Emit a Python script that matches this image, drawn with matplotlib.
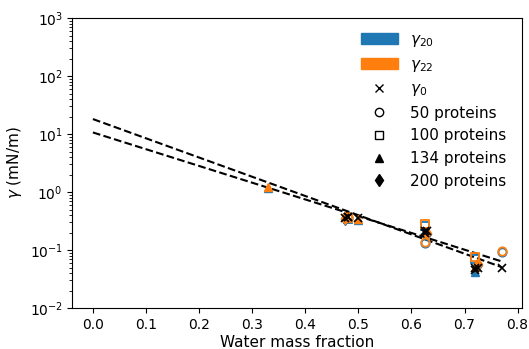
import numpy as np
import matplotlib
matplotlib.use("Agg")
import matplotlib.pyplot as plt
from matplotlib.patches import Patch
from matplotlib.lines import Line2D

# water mass fraction and surface tension (mN/m) per system size
labels = ["50 proteins", "100 proteins", "134 proteins", "200 proteins"]
markers = ["o", "s", "^", "d"]
hollow = [True, True, False, False]

x_50 = [0.48, 0.625, 0.77]
g20_50 = [0.36, 0.135, 0.093]
g22_50 = [0.37, 0.14, 0.097]
g0_50 = [0.38, 0.21, 0.050]

x_100 = [0.48, 0.625, 0.72]
g20_100 = [0.34, 0.26, 0.070]
g22_100 = [0.36, 0.28, 0.075]
g0_100 = [0.37, 0.20, 0.050]

x_134 = [0.33, 0.50, 0.72]
g20_134 = [1.2, 0.33, 0.042]
g22_134 = [1.25, 0.34, 0.052]
g0_134 = [np.nan, 0.36, 0.046]

x_200 = [0.475, 0.63, 0.725]
g20_200 = [0.34, 0.19, 0.055]
g22_200 = [0.36, 0.20, 0.057]
g0_200 = [0.36, 0.21, 0.050]

xs = [x_50, x_100, x_134, x_200]
g20 = [g20_50, g20_100, g20_134, g20_200]
g22 = [g22_50, g22_100, g22_134, g22_200]
g0 = [g0_50, g0_100, g0_134, g0_200]

# exponential fits, values at the ends of the fit range
fit_x = [0.0, 0.77]
fit_a = [18.2, 0.051]
fit_b = [10.7, 0.064]

fig = plt.figure(figsize=(5.29, 3.49), dpi=100)
ax = fig.add_axes([0.137, 0.117, 0.85, 0.831])

ax.plot(fit_x, fit_a, "k--", lw=1.5)
ax.plot(fit_x, fit_b, "k--", lw=1.5)

for vals, col in [(g20, "tab:blue"), (g22, "tab:orange")]:
    for x, y, m, h in zip(xs, vals, markers, hollow):
        if h:
            ax.plot(x, y, m, ls="none", ms=6, mfc="none", mec=col, mew=1.3)
        else:
            ax.plot(x, y, m, ls="none", ms=6, color=col)

for x, y in zip(xs, g0):
    ax.plot(x, y, "x", ls="none", ms=6, color="k", mew=1.2)

ax.set_yscale("log")
ax.set_ylim(1e-2, 1e3)
ax.set_xticks(np.arange(0, 0.81, 0.1))
ax.set_xlabel("Water mass fraction", fontsize=11, labelpad=2)
ax.set_ylabel(r"$\gamma$ (mN/m)", fontsize=11)

handles = [Patch(color="tab:blue", label=r"$\gamma_{20}$"),
           Patch(color="tab:orange", label=r"$\gamma_{22}$"),
           Line2D([], [], marker="x", ls="none", color="k", label=r"$\gamma_0$")]
for lab, m, h in zip(labels, markers, hollow):
    handles.append(Line2D([], [], marker=m, ls="none", color="k",
                          mfc="none" if h else "k", label=lab))
ax.legend(handles=handles, loc="upper right", bbox_to_anchor=(0.995, 1.0),
          frameon=False, fontsize=11, handlelength=2.4)

fig.savefig("out.png", dpi=100)
